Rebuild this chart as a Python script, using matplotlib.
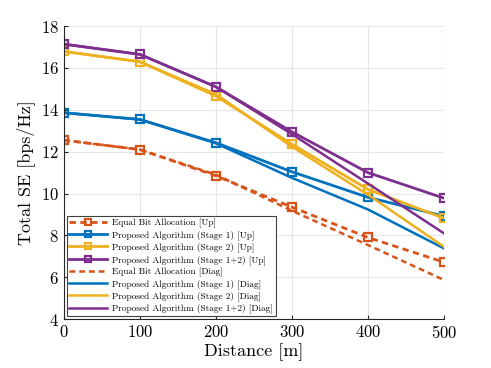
import matplotlib
matplotlib.use("Agg")
import matplotlib.pyplot as plt

plt.rcParams['font.family'] = 'serif'
plt.rcParams['font.serif'] = ['cmr10', 'DejaVu Serif']
plt.rcParams['mathtext.fontset'] = 'cm'
plt.rcParams['axes.formatter.use_mathtext'] = True

distance = [0, 100, 200, 300, 400, 500]

equal_up = [12.55, 12.1, 10.85, 9.35, 7.9, 6.72]
stage1_up = [13.86, 13.54, 12.43, 11.04, 9.82, 8.92]
stage2_up = [16.79, 16.3, 14.66, 12.36, 10.2, 8.82]
stage12_up = [17.14, 16.65, 15.1, 12.95, 11.0, 9.78]

equal_diag = [12.55, 12.1, 10.9, 9.18, 7.54, 5.87]
stage1_diag = [13.86, 13.54, 12.4, 10.75, 9.24, 7.38]
stage2_diag = [16.79, 16.3, 14.75, 12.24, 9.95, 7.46]
stage12_diag = [17.14, 16.65, 15.1, 12.84, 10.48, 8.1]

labels_up = ['Equal Bit Allocation [Up]', 'Proposed Algorithm (Stage 1) [Up]',
             'Proposed Algorithm (Stage 2) [Up]', 'Proposed Algorithm (Stage 1+2) [Up]']
labels_diag = ['Equal Bit Allocation [Diag]', 'Proposed Algorithm (Stage 1) [Diag]',
               'Proposed Algorithm (Stage 2) [Diag]', 'Proposed Algorithm (Stage 1+2) [Diag]']

colors = ['#D95319', '#0072BD', '#EDB120', '#7E2F8E']
styles = ['--', '-', '-', '-']

fig = plt.figure(figsize=(4.91, 3.68), dpi=100)
ax = fig.add_axes([0.130, 0.133, 0.774, 0.796])

ups = [equal_up, stage1_up, stage2_up, stage12_up]
diags = [equal_diag, stage1_diag, stage2_diag, stage12_diag]
dash = (2.3, 1.6)

for y, c, s, l in zip(ups, colors, styles, labels_up):
    kw = dict(dashes=dash) if s == '--' else {}
    ax.plot(distance, y, linestyle=s, color=c, lw=2.0, marker='s', ms=5.5,
            mfc='none', mew=1.6, label=l, **kw)
for y, c, s, l in zip(diags, colors, styles, labels_diag):
    kw = dict(dashes=dash) if s == '--' else {}
    ax.plot(distance, y, linestyle=s, color=c, lw=1.8, label=l, **kw)

ax.set_xlim(0, 500)
ax.set_ylim(4, 18)
ax.set_xticks(distance)
ax.set_yticks([4, 6, 8, 10, 12, 14, 16, 18])
ax.grid(True, color='#e6e6e6', lw=0.8)
ax.set_axisbelow(True)
for sp in ['top', 'right']:
    ax.spines[sp].set_visible(False)
for sp in ['left', 'bottom']:
    ax.spines[sp].set_color('#262626')
    ax.spines[sp].set_linewidth(0.8)
ax.tick_params(direction='in', labelsize=12, length=3, color='#262626')
ax.set_xlabel('Distance [m]', fontsize=13, labelpad=2)
ax.set_ylabel('Total SE [bps/Hz]', fontsize=13, labelpad=4)

leg = ax.legend(loc='lower left', fontsize=6.7, handlelength=4.0, labelspacing=0.28,
                borderaxespad=0.3, fancybox=False, framealpha=1, edgecolor='#404040',
                borderpad=0.3, handletextpad=0.6, markerscale=0.85)
leg.get_frame().set_linewidth(0.8)

fig.savefig('out.png', dpi=100)
